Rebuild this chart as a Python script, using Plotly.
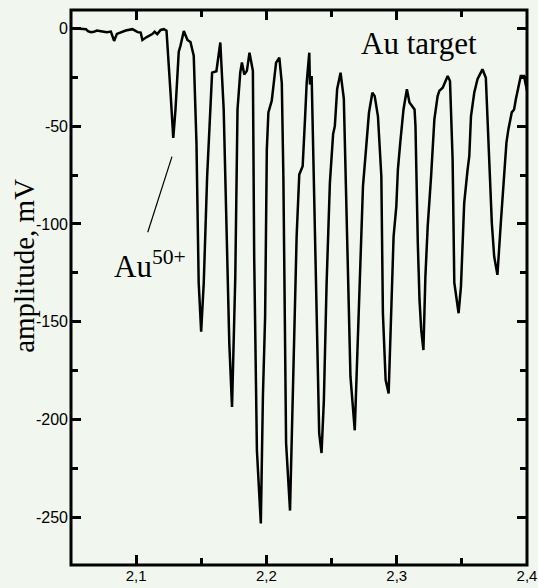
import plotly.graph_objects as go

# time axis (µs, comma decimal in labels) and signal amplitude (mV)
time_us = [
    2.0523, 2.0561, 2.0615, 2.0630, 2.0653, 2.0676, 2.0699, 2.0729, 2.0752, 2.0775,
    2.0806, 2.0831, 2.0852, 2.0882, 2.0920, 2.0971, 2.1012, 2.1035, 2.1048, 2.1081,
    2.1124, 2.1142, 2.1162, 2.1188, 2.1213, 2.1233,
    2.1245, 2.1264, 2.1285, 2.1302, 2.1327, 2.1340, 2.1366, 2.1394, 2.1417, 2.1442,
    2.1463, 2.1480, 2.1499, 2.1519, 2.1545, 2.1570, 2.1583, 2.1616, 2.1646, 2.1672,
    2.1697, 2.1715, 2.1736, 2.1761, 2.1778, 2.1799, 2.1812, 2.1830, 2.1850, 2.1870,
    2.1896, 2.1901, 2.1906, 2.1927, 2.1957, 2.1973, 2.1990, 2.2003, 2.2015, 2.2041,
    2.2054, 2.2074, 2.2099, 2.2118, 2.2130, 2.2151, 2.2181, 2.2202, 2.2232, 2.2252,
    2.2278, 2.2296, 2.2309, 2.2329, 2.2334, 2.2347, 2.2372, 2.2390, 2.2405, 2.2423,
    2.2441, 2.2462, 2.2487, 2.2512, 2.2525, 2.2543, 2.2569, 2.2594, 2.2614, 2.2634,
    2.2645, 2.2678, 2.2703, 2.2716, 2.2741, 2.2762, 2.2787, 2.2813, 2.2831, 2.2856,
    2.2882, 2.2894, 2.2915, 2.2938, 2.2958, 2.2976, 2.2997, 2.3009, 2.3027, 2.3052,
    2.3078, 2.3098, 2.3137, 2.3144, 2.3162, 2.3175, 2.3188, 2.3205, 2.3220, 2.3238,
    2.3264, 2.3276, 2.3289, 2.3314, 2.3327, 2.3353, 2.3391, 2.3409, 2.3429, 2.3442,
    2.3475, 2.3493, 2.3518, 2.3544, 2.3557, 2.3570, 2.3595, 2.3620, 2.3658, 2.3684,
    2.3710, 2.3730, 2.3748, 2.3773, 2.3799, 2.3824, 2.3842, 2.3857, 2.3883, 2.3901,
    2.3914, 2.3952, 2.3977, 2.4000,
]
amplitude_mV = [
    0.0, -0.3, -0.5, -1.5, -2.0, -1.8, -1.2, -1.5, -1.8, -2.0,
    -1.7, -6.5, -2.9, -2.0, -1.2, -0.5, -2.0, -2.2, -6.0, -4.5,
    -3.0, -1.8, -3.0, -0.9, -0.5, -1.3,
    -12.0, -33.0, -56.0, -41.5, -12.0, -9.0, -1.4, -6.0, -7.0, -14.0,
    -58.6, -130.0, -155.0, -130.0, -75.6, -34.7, -22.7, -22.0, -7.3, -41.5,
    -110.0, -161.0, -193.5, -127.0, -41.5, -22.7, -17.5, -23.6, -21.8, -12.5,
    -21.8, -58.6, -116.6, -215.7, -253.0, -188.0, -147.0, -62.0, -43.0, -37.0,
    -29.5, -17.6, -15.0, -28.0, -75.6, -212.0, -246.4, -191.7, -106.0, -74.8,
    -70.5, -46.6, -27.8, -12.5, -28.7, -24.4, -110.0, -169.6, -207.0, -217.0,
    -190.0, -130.0, -79.0, -54.0, -50.0, -31.0, -22.7, -36.0, -92.7, -157.6,
    -178.0, -205.4, -157.6, -123.5, -80.8, -63.7, -43.2, -33.0, -34.7, -45.0,
    -75.6, -145.6, -179.8, -186.6, -138.8, -106.4, -91.0, -72.2, -58.6, -41.5,
    -31.2, -38.0, -41.5, -50.0, -110.0, -138.8, -154.0, -164.4, -127.0, -101.0,
    -75.6, -62.0, -46.6, -34.7, -32.0, -30.4, -24.4, -27.0, -67.0, -130.0,
    -145.6, -132.0, -89.3, -72.2, -65.4, -45.0, -33.0, -26.0, -21.0, -25.3,
    -67.0, -99.5, -116.6, -126.0, -99.5, -75.6, -58.6, -51.7, -43.0, -41.5,
    -36.4, -24.4, -24.4, -32.0,
]

x_tick_vals = [2.1, 2.2, 2.3, 2.4]
x_tick_text = ["2,1", "2,2", "2,3", "2,4"]
x_minor_vals = [2.15, 2.25, 2.35]
y_tick_vals = [0, -50, -100, -150, -200, -250]
y_tick_text = ["0", "-50", "-100", "-150", "-200", "-250"]
y_minor_vals = [-25, -75, -125, -175, -225]

X_RANGE = [2.05, 2.4]
Y_RANGE = [-274.2, 9.3]

BG = "rgb(241,246,238)"
SERIF = "Liberation Serif, Times New Roman, serif"
SANS = "Liberation Sans, Arial, sans-serif"

fig = go.Figure()
fig.add_trace(go.Scatter(x=time_us, y=amplitude_mV, mode="lines",
                         line=dict(color="black", width=2.5), showlegend=False,
                         hoverinfo="skip"))
# empty trace to instantiate the overlay axes carrying the minor ticks
fig.add_trace(go.Scatter(x=[], y=[], xaxis="x2", yaxis="y2", mode="lines",
                         showlegend=False, hoverinfo="skip"))

major = dict(showline=False, mirror="allticks",
             ticks="inside", ticklen=10, tickwidth=3, tickcolor="#000000",
             showgrid=False, zeroline=False, automargin=False,
             ticklabeloverflow="allow")
minor = dict(showline=False, mirror="allticks", showticklabels=False,
             ticks="inside", ticklen=7, tickwidth=3, tickcolor="#000000",
             showgrid=False, zeroline=False, automargin=False)

fig.update_layout(
    xaxis=dict(range=X_RANGE, tickmode="array", tickvals=x_tick_vals,
               ticktext=x_tick_text,
               tickfont=dict(family=SANS, size=15, color="#000000"), **major),
    yaxis=dict(range=Y_RANGE, tickmode="array", tickvals=y_tick_vals,
               ticktext=y_tick_text, ticklabelstandoff=2,
               tickfont=dict(family=SANS, size=16, color="#000000"), **major),
    xaxis2=dict(range=X_RANGE, overlaying="x", anchor="y2", side="bottom",
                tickmode="array", tickvals=x_minor_vals, **minor),
    yaxis2=dict(range=Y_RANGE, overlaying="y", anchor="x2", side="left",
                tickmode="array", tickvals=y_minor_vals, **minor),
)

L, R, T, B = 70.5, 10.5, 9.5, 23
W, H = 538, 588
pw, ph = W - L - R, H - T - B

def px(xp):
    return (xp - L) / pw

def py(yp):
    return (H - B - yp) / ph

# frame round the plotting area
fig.add_shape(type="rect", xref="paper", yref="paper", x0=0, y0=0, x1=1, y1=1,
              line=dict(color="black", width=3), fillcolor="rgba(0,0,0,0)", layer="above")

fig.add_annotation(text="amplitude, mV", textangle=-90, showarrow=False,
                   xref="paper", yref="paper", x=px(24), y=py(266),
                   xanchor="center", yanchor="middle",
                   font=dict(family=SERIF, size=29, color="black"))
fig.add_annotation(text="Au target", showarrow=False,
                   xref="paper", yref="paper", x=px(419), y=py(43),
                   xanchor="center", yanchor="middle",
                   font=dict(family=SERIF, size=31, color="black"))
fig.add_annotation(text="Au<sup>50+</sup>", showarrow=False,
                   xref="paper", yref="paper", x=px(112), y=py(264),
                   xanchor="left", yanchor="middle",
                   font=dict(family=SERIF, size=31, color="black"))
fig.add_shape(type="line", xref="x", yref="y", x0=2.1275, y0=-65.6, x1=2.1089, y1=-104.2,
              line=dict(color="black", width=1.2))

fig.update_layout(width=W, height=H, margin=dict(l=L, r=R, t=T, b=B),
                  paper_bgcolor=BG, plot_bgcolor=BG, showlegend=False)

fig.write_html("out.html")
